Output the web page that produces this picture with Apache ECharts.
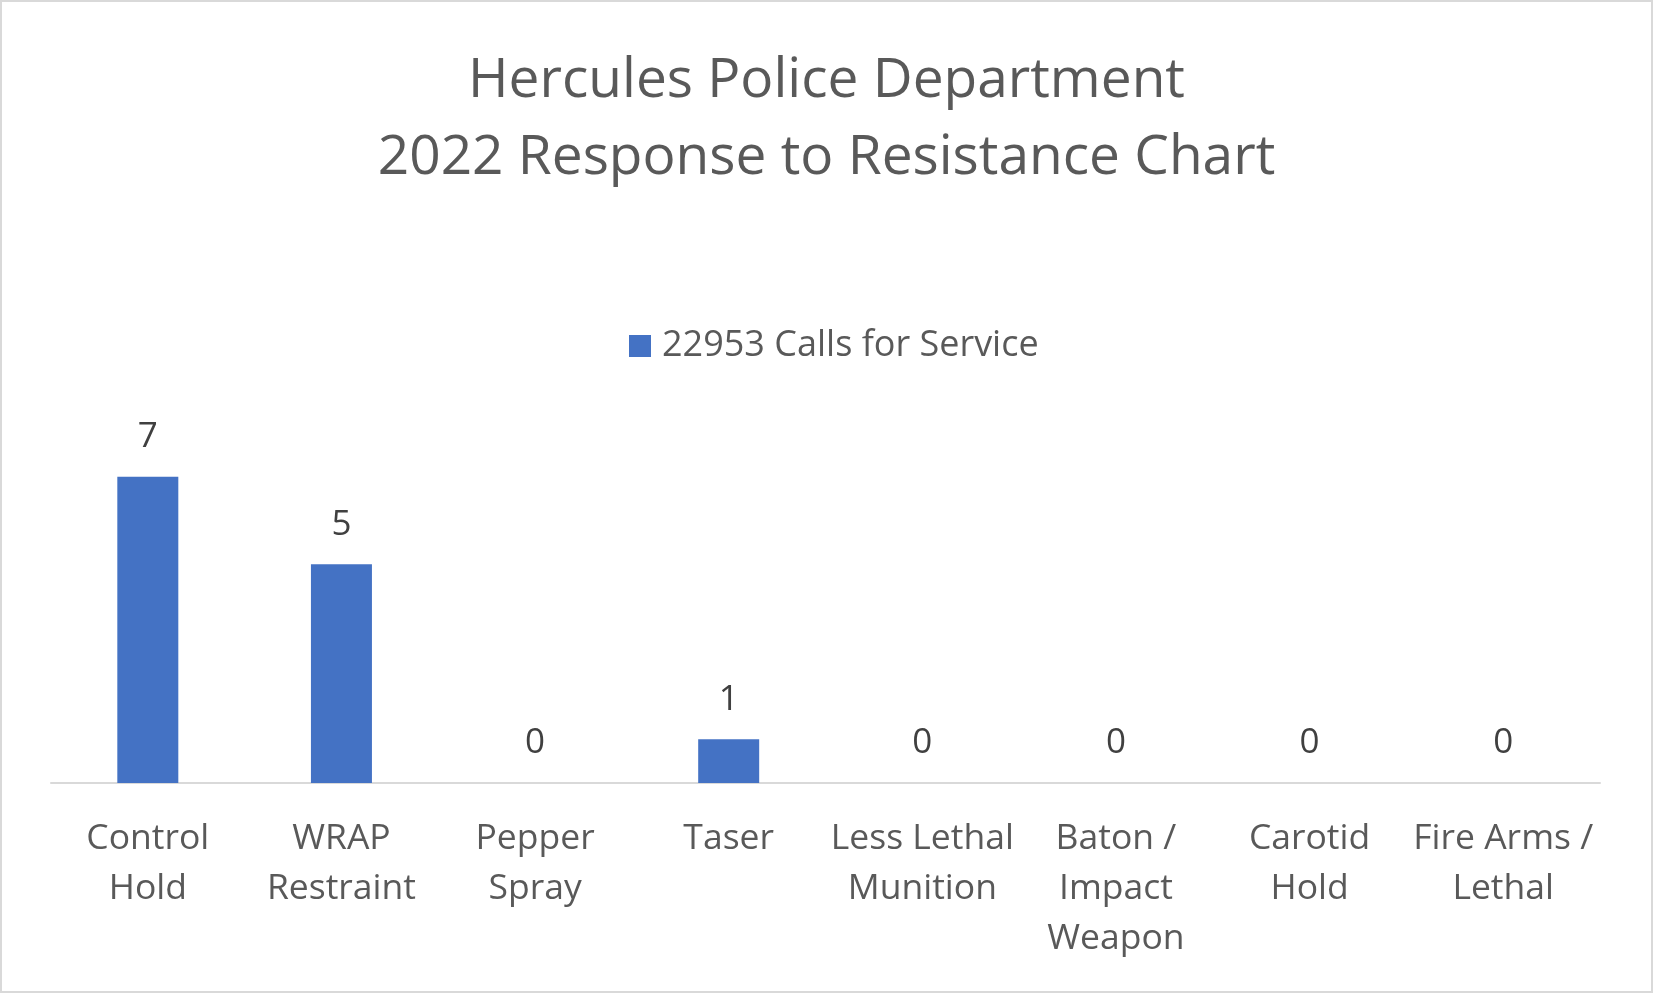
<!DOCTYPE html>
<html><head><meta charset="utf-8">
<script src="https://cdn.jsdelivr.net/npm/echarts@6/dist/echarts.min.js"></script>
<style>
html,body{margin:0;padding:0;background:#fff;}
#c{width:1653px;height:993px;box-sizing:border-box;border:2px solid #d9d9d9;}
</style></head><body>
<div id="c"></div>
<script>
const categories = ["Control\nHold","WRAP\nRestraint","Pepper\nSpray","Taser","Less Lethal\nMunition","Baton /\nImpact\nWeapon","Carotid\nHold","Fire Arms /\nLethal"];
const seriesName = "22953 Calls for Service";
const values = [7,5,0,1,0,0,0,0];
const titleText = "Hercules Police Department\n2022 Response to Resistance Chart";

const chart = echarts.init(document.getElementById('c'));
const font = "'Open Sans', 'Noto Sans', sans-serif";
chart.setOption({
  animation:false,
  title:{text:titleText,left:'center',top:36,textStyle:{fontFamily:font,fontSize:55,fontWeight:'normal',color:'#595959',lineHeight:77}},
  legend:{top:321,left:622,icon:'rect',itemWidth:22,itemHeight:22,itemGap:10,
    textStyle:{fontFamily:font,fontSize:36,color:'#595959',padding:[0,0,0,6]},data:[seriesName]},
  grid:{left:49,right:51,top:431,bottom:208,containLabel:false},
  xAxis:{type:'category',data:categories,
    axisLine:{lineStyle:{color:'#d9d9d9',width:2}},axisTick:{show:false},
    axisLabel:{interval:0,fontFamily:font,fontSize:35.5,color:'#595959',lineHeight:50,margin:31,verticalAlign:'top'}},
  yAxis:{type:'value',min:0,max:8,show:false,splitLine:{show:false}},
  series:[{name:seriesName,type:'bar',data:values,barWidth:61,
    itemStyle:{color:'#4472c4'},
    label:{show:true,position:'top',distance:22,fontFamily:font,fontSize:35,color:'#404040'}}]
});
</script></body></html>
